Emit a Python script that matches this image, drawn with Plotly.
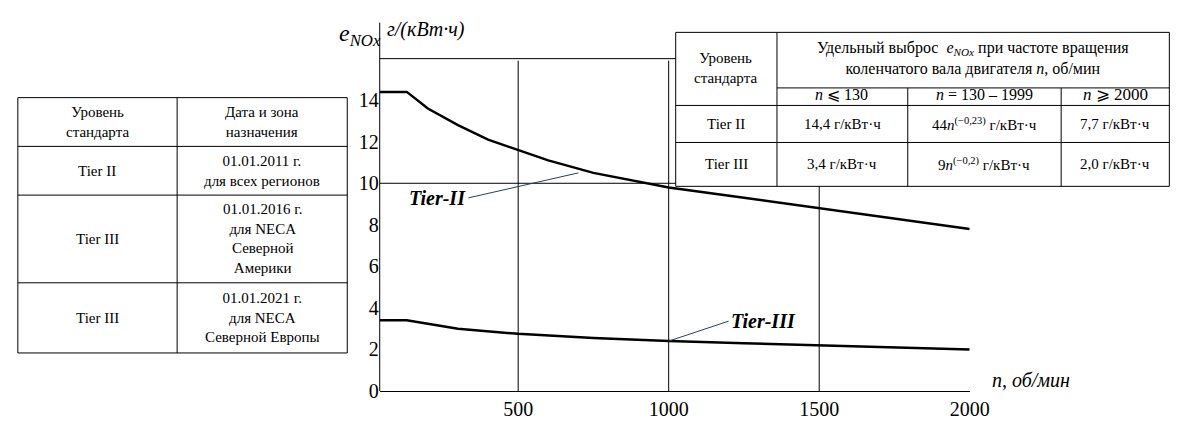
import plotly.graph_objects as go

W, H = 1201, 431
n_tier2 = [40, 130, 200, 300, 400, 500, 600, 750, 900, 1000, 1250, 1500, 1750, 2000]
e_tier2 = [14.4, 14.4, 13.6, 12.8, 12.1, 11.6, 11.1, 10.5, 10.1, 9.8, 9.3, 8.8, 8.3, 7.8]
n_tier3 = [40, 130, 300, 500, 750, 1000, 1250, 1500, 1750, 2000]
e_tier3 = [3.4, 3.4, 3.0, 2.75, 2.55, 2.4, 2.3, 2.2, 2.1, 2.0]
x_ticks = [500, 1000, 1500, 2000]
y_ticks = [0, 2, 4, 6, 8, 10, 12, 14]

left_rows = [["Уровень<br>стандарта", "Дата и зона<br>назначения"],
             ["Tier II", "01.01.2011 г.<br>для всех регионов"],
             ["Tier III", "01.01.2016 г.<br>для NECA<br>Северной<br>Америки"],
             ["Tier III", "01.01.2021 г.<br>для NECA<br>Северной Европы"]]

def px(x): return x / W
def py(y): return 1 - y / H

FONT = "Liberation Serif"
fig = go.Figure()
fig.add_trace(go.Scatter(x=n_tier2, y=e_tier2, mode="lines", line=dict(color="black", width=2.5), showlegend=False))
fig.add_trace(go.Scatter(x=n_tier3, y=e_tier3, mode="lines", line=dict(color="black", width=2.5), showlegend=False))

shapes, ann = [], []
def line(x0, y0, x1, y1, w=1):
    shapes.append(dict(type="line", xref="paper", yref="paper", x0=px(x0), y0=py(y0), x1=px(x1), y1=py(y1),
                       line=dict(color="black", width=w)))
def text(x, y, t, size=15, xa="center"):
    ann.append(dict(xref="paper", yref="paper", x=px(x), y=py(y), text=t, showarrow=False,
                    xanchor=xa, yanchor="middle",
                    font=dict(family=FONT, size=size, color="black")))

# gridlines
for v in [500, 1000, 1500]:
    shapes.append(dict(type="line", xref="x", yref="paper", x0=v, x1=v, y0=py(393), y1=py(54), line=dict(color="black", width=1)))
for v in [16, 10]:
    shapes.append(dict(type="line", xref="paper", yref="y", x0=px(378), x1=px(978), y0=v, y1=v, line=dict(color="black", width=1)))
line(378, 393, 378, 15)

# left table
lx = [10, 172, 345]; ly = [92, 142, 192, 282, 354]
for y in ly: line(lx[0], y, lx[2], y)
for x in lx: line(x, ly[0], x, ly[-1])
for i, row in enumerate(left_rows):
    cy = (ly[i] + ly[i+1]) / 2
    text((lx[0]+lx[1])/2, cy, row[0], size=15); text((lx[1]+lx[2])/2, cy, row[1], size=15)

# right table (white background)
shapes.append(dict(type="rect", xref="paper", yref="paper", x0=px(679), y0=py(25), x1=px(1181), y1=py(183),
                   fillcolor="white", line=dict(width=0), layer="above"))
cx = [679, 782, 915, 1071, 1181]; ry = [25, 82, 100, 138, 183]
for y in [25, 100, 138, 183]: line(cx[0], y, cx[4], y)
line(cx[1], 82, cx[4], 82)
line(cx[0], 25, cx[0], 183); line(cx[1], 25, cx[1], 183); line(cx[4], 25, cx[4], 183)
line(cx[2], 82, cx[2], 183); line(cx[3], 82, cx[3], 183)
text(730, 62, "Уровень<br>стандарта")
text(981, 52, "Удельный выброс  <i>e<sub>NOx</sub></i> при частоте вращения<br>коленчатого вала двигателя <i>n</i>, об/мин", size=16)
text(848, 89, "<i>n</i> ⩽ 130", size=16)
text(993, 89, "<i>n</i> = 130 – 1999", size=16)
text(1126, 89, "<i>n</i> ⩾ 2000", size=17)
rows = [["Tier II", "14,4 г/кВт·ч", "44<i>n</i><sup>(−0,23)</sup> г/кВт·ч", "7,7 г/кВт·ч"],
        ["Tier III", "3,4 г/кВт·ч", "9<i>n</i><sup>(−0,2)</sup> г/кВт·ч", "2,0 г/кВт·ч"]]
for i, r in enumerate(rows):
    cy = (ry[i+2] + ry[i+3]) / 2
    for j, t in enumerate(r):
        text((cx[j]+cx[j+1])/2, cy, t, size=15)

# axis labels
text(358, 28, "<i>e<sub>NOx</sub></i>", size=24)
text(425, 22, "<i>г/(кВт·ч)</i>", size=20)
text(1040, 382, "<i>n, об/мин</i>", size=20)
ann.append(dict(x=700, y=10.5, ax=-110, ay=25, text="<b><i>Tier-II</i></b>", showarrow=True, arrowhead=0,
                arrowwidth=1, font=dict(family=FONT, size=20, color="black"), xanchor="right"))
ann.append(dict(x=1000, y=2.4, ax=60, ay=-20, text="<b><i>Tier-III</i></b>", showarrow=True, arrowhead=0,
                arrowwidth=1, font=dict(family=FONT, size=20, color="black"), xanchor="left"))

fig.update_layout(width=W, height=H, margin=dict(l=0, r=0, t=0, b=0), plot_bgcolor="white", paper_bgcolor="white",
                  shapes=shapes, annotations=ann,
                  xaxis=dict(domain=[px(378), px(978)], range=[40, 2000], tickvals=x_ticks, showgrid=False, zeroline=False,
                             showline=True, linecolor="black", tickfont=dict(family=FONT, size=20, color="black")),
                  yaxis=dict(domain=[py(393), py(20)], range=[0, 17.5], tickvals=y_ticks, showgrid=False, zeroline=False,
                             showline=False, tickfont=dict(family=FONT, size=20, color="black")))
fig.write_html("out.html")
